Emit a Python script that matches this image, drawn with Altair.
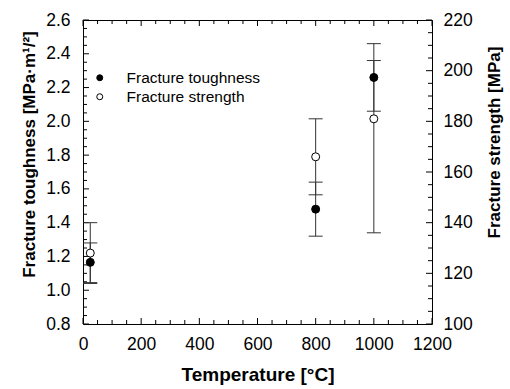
import altair as alt
import pandas as pd

# ---- data ----
temperature = [25, 800, 1000]
toughness = [1.165, 1.48, 2.26]
toughness_low = [1.045, 1.32, 2.06]
toughness_high = [1.28, 1.64, 2.46]
strength = [128, 166, 181]
strength_low = [116, 151, 136]
strength_high = [140, 181, 204]
series_names = ["Fracture toughness", "Fracture strength"]

x_major = [0, 200, 400, 600, 800, 1000, 1200]
x_minor = [v for v in range(0, 1201, 50) if v % 200 != 0]
yl_major = [0.8, 1.0, 1.2, 1.4, 1.6, 1.8, 2.0, 2.2, 2.4, 2.6]
yl_minor = [round(0.8 + 0.05 * i, 2) for i in range(37) if i % 4 != 0]
yr_major = [100, 120, 140, 160, 180, 200, 220]
yr_minor = [v for v in range(100, 221, 5) if v % 20 != 0]

W, H = 349, 304
FONT = "Liberation Sans"

tough_df = pd.DataFrame({"T": temperature, "v": toughness, "lo": toughness_low,
                         "hi": toughness_high, "series": series_names[0]})
str_df = pd.DataFrame({"T": temperature, "v": strength, "lo": strength_low,
                       "hi": strength_high, "series": series_names[1]})
tough_caps = pd.DataFrame({"T": temperature * 2, "v": toughness_low + toughness_high})
str_caps = pd.DataFrame({"T": temperature * 2, "v": strength_low + strength_high})

x_scale = alt.Scale(domain=[0, 1200], nice=False, zero=False)
yl_scale = alt.Scale(domain=[0.8, 2.6], nice=False, zero=False)
yr_scale = alt.Scale(domain=[100, 220], nice=False, zero=False)

x_axis = alt.Axis(values=x_major, format="d", title="Temperature [°C]", grid=False,
                  ticks=False, tickSize=0, domain=False, labelPadding=11,
                  labelFlush=False, labelOverlap=False,
                  labelFontSize=17.5, labelFont=FONT, labelColor="black",
                  titleFontSize=19, titleFont=FONT, titleFontWeight="bold",
                  titleColor="black", titleBaseline="alphabetic", titleY=56)
x_enc = alt.X("T:Q", scale=x_scale, axis=x_axis)

yl_axis = alt.Axis(orient="left", values=yl_major, format=".1f",
                   title="Fracture toughness [MPa·m¹/²]", grid=False, ticks=False,
                   tickSize=0, domain=False, labelPadding=13, labelFontSize=17.5,
                   labelFlush=False, labelOverlap=False,
                   labelFont=FONT, labelColor="black", titleFontSize=17, titleFont=FONT,
                   titleFontWeight="bold", titleColor="black", titleAngle=270,
                   titleBaseline="alphabetic", titleX=-49, titleY=134)
yr_axis = alt.Axis(orient="right", values=yr_major, format="d",
                   title="Fracture strength [MPa]", grid=False, ticks=False,
                   tickSize=0, domain=False, labelPadding=11, labelFontSize=17.5,
                   labelFlush=False, labelOverlap=False,
                   labelFont=FONT, labelColor="black", titleFontSize=17, titleFont=FONT,
                   titleFontWeight="bold", titleColor="black", titleAngle=270,
                   titleBaseline="alphabetic", titleX=67, titleY=122)

layers = []

# inward tick marks drawn from tick value lists through the scales
for vals, ln in [(x_major, 6), (x_minor, 4)]:
    d = pd.DataFrame({"T": vals})
    layers.append(alt.Chart(d).mark_tick(color="black", orient="vertical", size=ln,
                                         thickness=1, opacity=1).encode(
        x=x_enc, y=alt.value(H - ln / 2)))
    layers.append(alt.Chart(d).mark_tick(color="black", orient="vertical", size=ln,
                                         thickness=1, opacity=1).encode(
        x=x_enc, y=alt.value(ln / 2)))
for vals, ln in [(yl_major, 6), (yl_minor, 4)]:
    d = pd.DataFrame({"v": vals})
    layers.append(alt.Chart(d).mark_tick(color="black", orient="horizontal", size=ln,
                                         thickness=1, opacity=1).encode(
        y=alt.Y("v:Q", scale=yl_scale, axis=None), x=alt.value(ln / 2)))
for vals, ln in [(yr_major, 6), (yr_minor, 4)]:
    d = pd.DataFrame({"v": vals})
    layers.append(alt.Chart(d).mark_tick(color="black", orient="horizontal", size=ln,
                                         thickness=1, opacity=1).encode(
        y=alt.Y("v:Q", scale=yr_scale, axis=None), x=alt.value(W - ln / 2)))

# error bars
layers.append(alt.Chart(tough_df).mark_rule(color="#333333", strokeWidth=1).encode(
    x=x_enc, y=alt.Y("lo:Q", scale=yl_scale, axis=yl_axis), y2="hi:Q"))
layers.append(alt.Chart(tough_caps).mark_tick(color="#333333", orient="horizontal",
                                              size=14, thickness=1, opacity=1).encode(
    x=x_enc, y=alt.Y("v:Q", scale=yl_scale, axis=None)))
layers.append(alt.Chart(str_df).mark_rule(color="#333333", strokeWidth=1).encode(
    x=x_enc, y=alt.Y("lo:Q", scale=yr_scale, axis=yr_axis), y2="hi:Q"))
layers.append(alt.Chart(str_caps).mark_tick(color="#333333", orient="horizontal",
                                            size=14, thickness=1, opacity=1).encode(
    x=x_enc, y=alt.Y("v:Q", scale=yr_scale, axis=None)))

fill_enc = alt.Fill("series:N",
                    scale=alt.Scale(domain=series_names, range=["black", "white"]),
                    legend=alt.Legend(orient="none", legendX=9, legendY=50, title=None,
                                      labelFontSize=15.5, labelFont=FONT, labelColor="black",
                                      symbolType="circle", symbolSize=36,
                                      symbolStrokeColor="black", symbolStrokeWidth=1,
                                      labelOffset=19, rowPadding=2, padding=0))

layers.append(alt.Chart(tough_df).mark_point(shape="circle", size=64, filled=True,
                                             stroke="black", strokeWidth=1, opacity=1).encode(
    x=x_enc, y=alt.Y("v:Q", scale=yl_scale, axis=None), fill=fill_enc))
layers.append(alt.Chart(str_df).mark_point(shape="circle", size=64, filled=True,
                                           stroke="black", strokeWidth=1, opacity=1).encode(
    x=x_enc, y=alt.Y("v:Q", scale=yr_scale, axis=None), fill=fill_enc))

chart = alt.layer(*layers).resolve_scale(y="independent").properties(
    width=W, height=H,
    autosize=alt.AutoSizeParams(type="none"),
    padding={"left": 83, "top": 20, "right": 510 - 83 - W, "bottom": 389 - 20 - H},
    background="white",
).configure_view(stroke="black", strokeWidth=1)

chart.save("out.html", embed_options={"renderer": "svg", "actions": False})
